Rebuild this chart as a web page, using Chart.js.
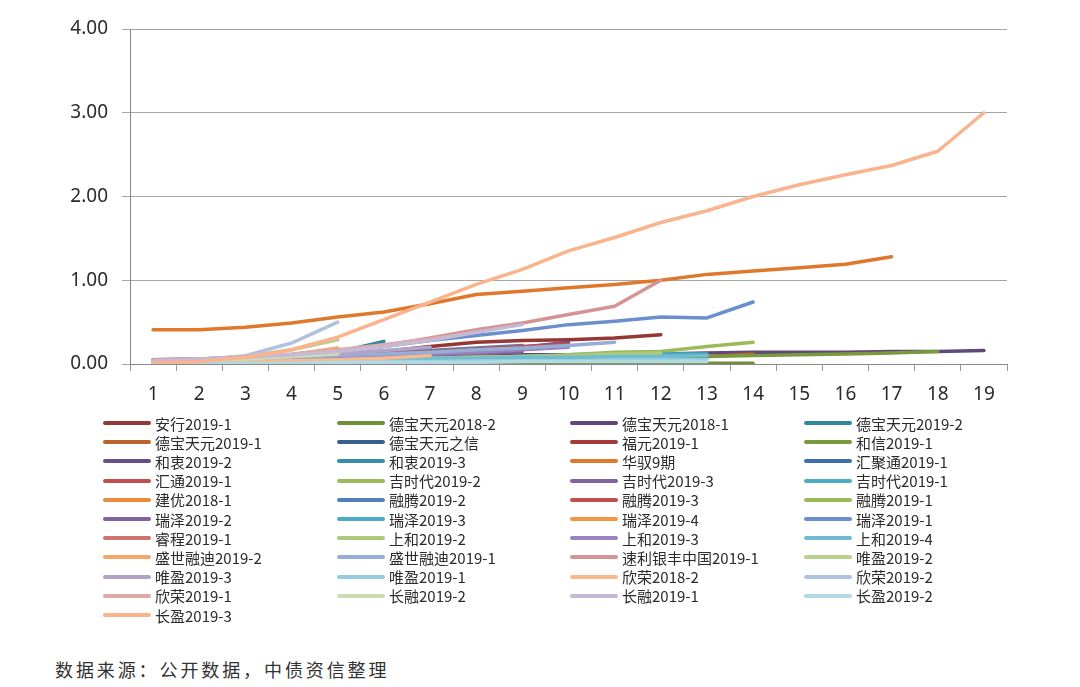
<!DOCTYPE html>
<html>
<head>
<meta charset="utf-8">
<script src="https://cdn.jsdelivr.net/npm/chart.js@4/dist/chart.umd.min.js"></script>
<style>
  body { margin: 0; background: #fff; width: 1080px; height: 687px; position: relative; overflow: hidden; }
  #wrap { position: absolute; left: 0; top: 0; width: 1080px; height: 420px; }
  .lg { position: absolute; height: 20px; display: flex; align-items: center;
        font-family: "Noto Sans CJK SC", sans-serif; font-size: 15px; color: #2b2b2b; white-space: nowrap; }
  .lg span.sw { display: inline-block; width: 48px; height: 4px; border-radius: 2px; margin-right: 4px; }
  #src { position: absolute; left: 55px; top: 656px; font-family: "Noto Sans CJK SC", sans-serif;
         font-size: 18px; letter-spacing: 2.9px; color: #333; }
</style>
</head>
<body>
<div id="wrap"><canvas id="line-chart"></canvas></div>
<div id="legend"></div>
<div id="src">数据来源：公开数据，中债资信整理</div>
<script>
// periods 1..19
var labels = ["1","2","3","4","5","6","7","8","9","10","11","12","13","14","15","16","17","18","19"];

var names = ["安行2019-1","德宝天元2018-2","德宝天元2018-1","德宝天元2019-2",
  "德宝天元2019-1","德宝天元之信","福元2019-1","和信2019-1",
  "和衷2019-2","和衷2019-3","华驭9期","汇聚通2019-1",
  "汇通2019-1","吉时代2019-2","吉时代2019-3","吉时代2019-1",
  "建优2018-1","融腾2019-2","融腾2019-3","融腾2019-1",
  "瑞泽2019-2","瑞泽2019-3","瑞泽2019-4","瑞泽2019-1",
  "睿程2019-1","上和2019-2","上和2019-3","上和2019-4",
  "盛世融迪2019-2","盛世融迪2019-1","速利银丰中国2019-1","唯盈2019-2",
  "唯盈2019-3","唯盈2019-1","欣荣2018-2","欣荣2019-2",
  "欣荣2019-1","长融2019-2","长融2019-1","长盈2019-2",
  "长盈2019-3"];

var values = [
  [0.05,0.06,0.07,0.09,0.11,0.15,0.21,0.26,0.28,0.29,0.31,0.35],
  [0.00,0.00,0.00,0.00,0.00,0.00,0.00,0.00,0.00,0.00,0.01,0.01,0.01,0.01],
  [0.03,0.04,0.05,0.06,0.07,0.08,0.09,0.10,0.11,0.11,0.12,0.12,0.13,0.14,0.14,0.14,0.15,0.15,0.16],
  [0.03,0.04,0.06,0.08,0.14,0.27],
  [0.01,0.01,0.02,0.02,0.03,0.03,0.04,0.05,0.05,0.06,0.07,0.07,0.09,0.12],
  [0.02,0.03,0.04,0.05,0.06,0.08,0.10,0.12],
  [0.03,0.04,0.05,0.06,0.08,0.10,0.12,0.15,0.19,0.24],
  [0.02,0.03,0.03,0.04,0.05,0.05,0.06,0.06,0.07,0.07,0.08,0.08,0.09,0.10,0.11,0.12,0.13,0.15],
  [0.02,0.03,0.04,0.05,0.07,0.09,0.12,0.16,0.20,0.26],
  [0.03,0.04,0.05,0.07,0.10,0.14,0.19],
  [0.41,0.41,0.44,0.49,0.56,0.62,0.72,0.83,0.87,0.91,0.95,1.00,1.07,1.11,1.15,1.19,1.28],
  [0.02,0.03,0.04,0.05,0.07,0.09,0.11,0.14],
  [0.02,0.03,0.04,0.05,0.06,0.08,0.10,0.13,0.17],
  [0.01,0.02,0.02,0.03,0.04,0.05,0.06,0.07,0.09,0.11,0.14,0.15,0.21,0.26],
  [0.02,0.03,0.04,0.05,0.06,0.08,0.10,0.12,0.15],
  [0.02,0.02,0.03,0.04,0.05,0.06,0.07,0.08,0.09,0.10,0.11,0.12,0.12],
  [0.02,0.04,0.07,0.11,0.18],
  [0.02,0.04,0.06,0.08,0.10,0.13,0.16,0.19,0.22],
  [0.02,0.03,0.05,0.07,0.09,0.12,0.15,0.18,0.21,0.24],
  [0.01,0.02,0.03,0.04,0.05,0.06,0.07,0.08,0.09,0.10,0.11,0.12],
  [0.02,0.03,0.05,0.07,0.09,0.11,0.12,0.13],
  [0.01,0.02,0.03,0.05,0.07,0.10],
  [0.01,0.02,0.03,0.04,0.06,0.08,0.10],
  [0.04,0.06,0.08,0.11,0.15,0.21,0.28,0.34,0.40,0.47,0.51,0.56,0.55,0.74],
  [0.02,0.03,0.05,0.07,0.09,0.11,0.13],
  [0.01,0.02,0.03,0.04,0.05,0.06,0.07,0.08,0.09,0.10,0.12,0.13],
  [0.02,0.03,0.04,0.06,0.08,0.10,0.12,0.14,0.17,0.20],
  [0.01,0.02,0.03,0.04,0.05,0.06,0.07,0.07,0.08,0.08,0.09,0.09,0.10],
  [0.01,0.03,0.06,0.11,0.19],
  [0.03,0.04,0.06,0.08,0.10,0.12,0.14,0.17,0.19,0.22,0.26],
  [0.05,0.06,0.08,0.11,0.15,0.22,0.31,0.41,0.49,0.59,0.69,1.00],
  [0.02,0.05,0.09,0.17,0.29],
  [0.03,0.05,0.07,0.09,0.12,0.16,0.20],
  [0.01,0.01,0.02,0.02,0.03,0.03,0.03,0.04,0.04,0.04,0.05,0.05,0.05],
  [0.01,0.02,0.03,0.04,0.05,0.07,0.10],
  [0.03,0.05,0.10,0.25,0.50],
  [0.04,0.06,0.09,0.12,0.17,0.23,0.30,0.38],
  [0.02,0.04,0.06,0.09,0.12],
  [0.04,0.06,0.08,0.11,0.15,0.21,0.28,0.38,0.47],
  [0.00,0.01,0.01,0.01,0.02,0.02,0.02,0.02,0.03,0.03,0.03,0.03,0.03],
  [0.01,0.03,0.08,0.17,0.32,0.53,0.74,0.95,1.13,1.35,1.51,1.69,1.83,2.00,2.14,2.26,2.37,2.54,3.00]
];

var yTicks = [0, 1, 2, 3, 4];

var colors = ["#953735","#6f8f3a","#5f497a","#31859c",
  "#b7652a","#376092","#a33b3b","#7a9a3e",
  "#674f86","#3590a5","#e0782c","#3f6faa",
  "#c0504d","#9bbb59","#8064a2","#4bacc6",
  "#ec8a3c","#4f81bd","#c0504d","#9bbb59",
  "#7f63a1","#4bacc6","#f79646","#6b8fcc",
  "#cd7371","#afc97a","#9b84bd","#6fbcd3",
  "#f9a66a","#95aed7","#d59493","#b8cf8e",
  "#b3a2c7","#93cddd","#fab98c","#b0c2de",
  "#dcaaa9","#cddcb0","#c5b9d4","#b2d8e2",
  "#f9b48e"];

var datasets = names.map(function(n, i) {
  return {
    label: n,
    data: values[i],
    borderColor: colors[i],
    backgroundColor: colors[i],
    borderWidth: 3.5,
    borderCapStyle: 'round',
    borderJoinStyle: 'round',
    pointRadius: 0,
    tension: 0,
    fill: false,
    order: names.length - i
  };
});

var ctx = document.getElementById('line-chart');

var lineChart = new Chart(ctx, {
  type: 'line',
  data: { labels: labels, datasets: datasets },
  options: {
    responsive: true,
    maintainAspectRatio: false,
    animation: false,
    layout: { padding: { left: 0, right: 73, top: 29, bottom: 0 } },
    plugins: { legend: { display: false }, tooltip: { enabled: false } },
    scales: {
      x: {
        offset: true,
        afterFit: function(s) { s.height = 56; },
        grid: { offset: true, drawOnChartArea: false, tickLength: 7, color: '#999' },
        border: { color: '#888' },
        ticks: { color: '#2b2b2b', padding: 12, font: { family: 'Noto Sans', size: 19 } }
      },
      y: {
        min: 0, max: 4,
        afterFit: function(s) { s.width = 130; },
        afterBuildTicks: function(s) { s.ticks = yTicks.map(function(v) { return { value: v }; }); },
        grid: { color: '#a6a6a6', tickLength: 8 },
        border: { color: '#888' },
        ticks: {
          color: '#2b2b2b', padding: 14, font: { family: 'Noto Sans', size: 19 },
          callback: function(v) { return Number(v).toFixed(2); }
        }
      }
    }
  }
});

// legend, 4 columns like the original
var colX = [103, 337, 570, 804];
var legend = document.getElementById('legend');
lineChart.data.datasets.forEach(function(ds, i) {
  var r = Math.floor(i / 4), c = i % 4;
  var d = document.createElement('div');
  d.className = 'lg';
  d.style.left = colX[c] + 'px';
  d.style.top = (423 + r * 19.2 - 10) + 'px';
  d.innerHTML = '<span class="sw" style="background:' + ds.borderColor + '"></span>' + ds.label;
  legend.appendChild(d);
});
</script>
</body>
</html>
